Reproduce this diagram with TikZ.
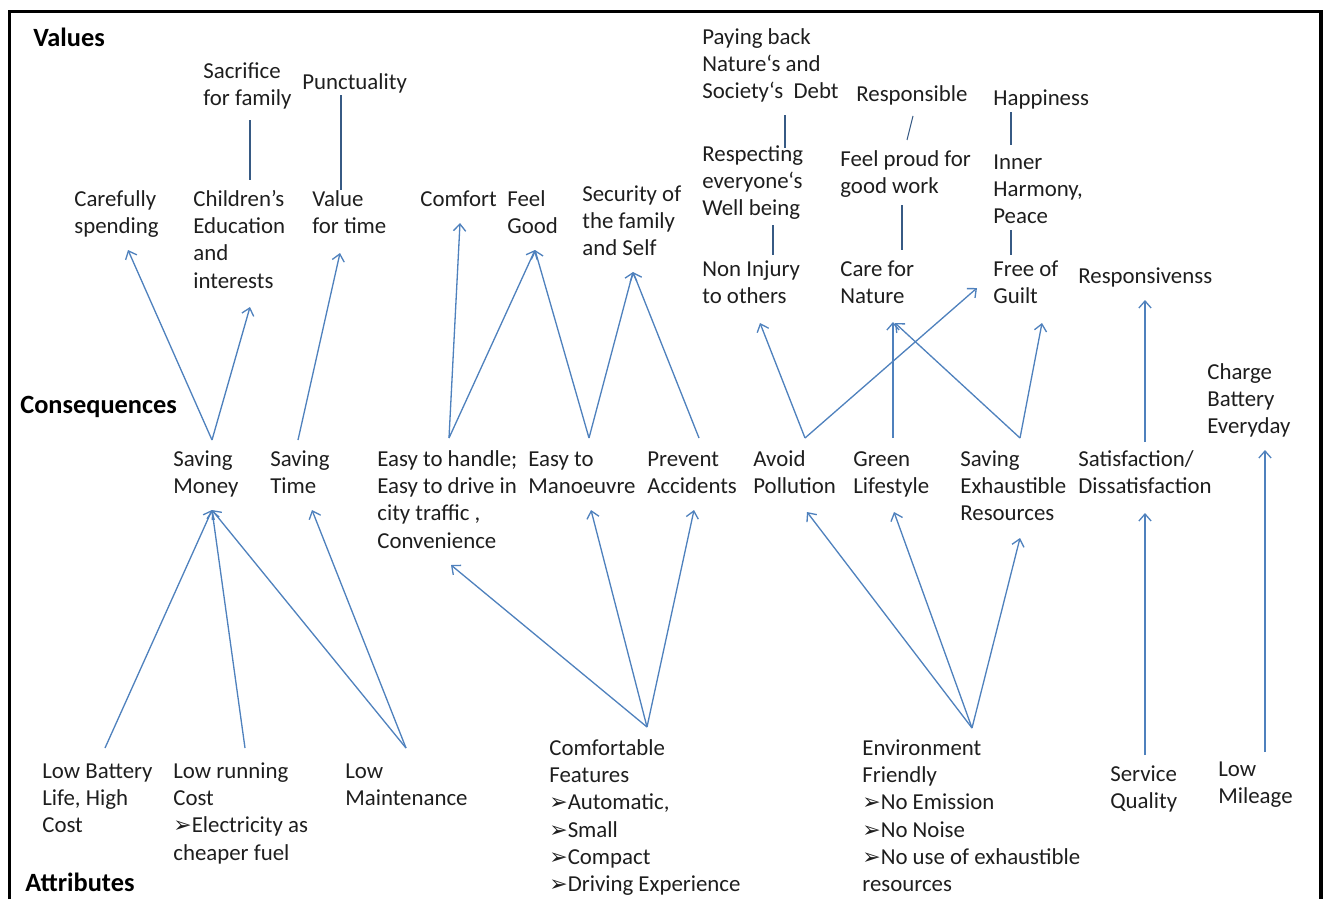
\documentclass[tikz,border=0pt]{standalone}
\usepackage{fontspec}
\setmainfont{Carlito}
\newfontfamily\dejavu{DejaVu Sans}
\usetikzlibrary{arrows.meta}
\definecolor{lineBlue}{RGB}{79,129,189}
\definecolor{textGray}{RGB}{30,30,30}
\newcommand{\Tip}{{\dejavu\fontsize{12.5}{10}\selectfont ➢}}

\begin{document}
\begin{tikzpicture}[x=0.02cm,y=-0.02cm,
  lbl/.style={anchor=north west,inner sep=0pt,align=left,text=textGray,font=\fontsize{13}{15.5}\selectfont},
  head/.style={anchor=north west,inner sep=0pt,align=left,text=black,font=\fontsize{15}{18}\selectfont\bfseries},
  arr/.style={draw=lineBlue,line width=0.75pt,-{Straight Barb[length=4pt,width=7pt]}},
  rung/.style={draw=lineBlue!70!black,line width=0.6pt}]
\useasboundingbox (0,0) rectangle (1324,899);
\draw[line width=0.08cm] (9.5,899) -- (9.5,11.5) -- (1320.5,11.5) -- (1320.5,899);

% tier headings
\node[head] (valHead) at (33,24) {\strut Values};
\node[head] (conHead) at (20,391) {\strut Consequences};
\node[head] (attHead) at (25,869) {\strut Attributes};

% values
\node[lbl] (sacrifice) at (203,59) {\strut Sacrifice\\for family};
\node[lbl] (punct) at (302,70) {\strut Punctuality};
\node[lbl] (careful) at (74,187) {\strut Carefully\\spending};
\node[lbl] (children) at (193,187) {\strut Children’s\\Education\\and\\interests};
\node[lbl] (valTime) at (312,187) {\strut Value\\for time};
\node[lbl] (comfort) at (420,187) {\strut Comfort};
\node[lbl] (feelGood) at (507,187) {\strut Feel\\Good};
\node[lbl] (security) at (582,182) {\strut Security of\\the family\\and Self};
\node[lbl] (payBack) at (702,25) {\strut Paying back\\Nature‘s and\\Society‘s\ \ Debt};
\node[lbl] (respect) at (702,142) {\strut Respecting\\everyone‘s\\Well being};
\node[lbl] (nonInjury) at (702,257) {\strut Non Injury\\to others};
\node[lbl] (responsible) at (856,82) {\strut Responsible};
\node[lbl] (proud) at (840,147) {\strut Feel proud for\\good work};
\node[lbl] (careNature) at (840,257) {\strut Care for\\Nature};
\node[lbl] (happy) at (993,86) {\strut Happiness};
\node[lbl] (harmony) at (993,150) {\strut Inner\\Harmony,\\Peace};
\node[lbl] (guilt) at (993,257) {\strut Free of\\Guilt};
\node[lbl] (respons) at (1078,264) {\strut Responsivenss};

% consequences
\node[lbl] (money) at (173,447) {\strut Saving\\Money};
\node[lbl] (time) at (270,447) {\strut Saving\\Time};
\node[lbl] (easy) at (377,447) {\strut Easy to handle;\\Easy to drive in\\city traffic ,\\Convenience};
\node[lbl] (manoeuvre) at (528,447) {\strut Easy to\\Manoeuvre};
\node[lbl] (prevent) at (647,447) {\strut Prevent\\Accidents};
\node[lbl] (pollution) at (753,447) {\strut Avoid\\Pollution};
\node[lbl] (green) at (853,447) {\strut Green\\Lifestyle};
\node[lbl] (exhaust) at (960,447) {\strut Saving\\Exhaustible\\Resources};
\node[lbl] (satisf) at (1078,447) {\strut Satisfaction/\\Dissatisfaction};
\node[lbl] (charge) at (1207,360) {\strut Charge\\Battery\\Everyday};

% attributes
\node[lbl] (battery) at (42,759) {\strut Low Battery\\Life, High\\Cost};
\node[lbl] (running) at (173,759) {\strut Low running\\Cost\\\Tip Electricity as\\cheaper fuel};
\node[lbl] (maint) at (345,759) {\strut Low\\Maintenance};
\node[lbl] (comfy) at (549,736) {\strut Comfortable\\Features\\\Tip Automatic,\\\Tip Small\\\Tip Compact\\\Tip Driving Experience};
\node[lbl] (envFriendly) at (862,736) {\strut Environment\\Friendly\\\Tip No Emission\\\Tip No Noise\\\Tip No use of exhaustible\\resources};
\node[lbl] (service) at (1110,762) {\strut Service\\Quality};
\node[lbl] (mileage) at (1218,757) {\strut Low\\Mileage};

% value ladders
\draw[rung] ([shift={(47,61)}]sacrifice.north west) -- ([shift={(57,-7)}]children.north west);
\draw[rung] ([shift={(39,25)}]punct.north west) -- ([shift={(29,3)}]valTime.north west);
\draw[rung] ([shift={(83,90)}]payBack.north west) -- ([shift={(83,6)}]respect.north west);
\draw[rung] ([shift={(71,83)}]respect.north west) -- ([shift={(71,-2)}]nonInjury.north west);
\draw[rung] ([shift={(57,34)}]responsible.north west) -- ([shift={(67,-7)}]proud.north west);
\draw[rung] ([shift={(62,58)}]proud.north west) -- ([shift={(62,-7)}]careNature.north west);
\draw[rung] ([shift={(18,26)}]happy.north west) -- ([shift={(18,-5)}]harmony.north west);
\draw[rung] ([shift={(18,80)}]harmony.north west) -- ([shift={(18,-2)}]guilt.north west);

% consequences -> values
\draw[arr] ([shift={(39,-7)}]money.north west) -- ([shift={(54,63)}]careful.north west);
\draw[arr] ([shift={(39,-7)}]money.north west) -- ([shift={(57,120)}]children.north west);
\draw[arr] ([shift={(28,-7)}]time.north west) -- ([shift={(28,66)}]valTime.north west);
\draw[arr] ([shift={(72,-9)}]easy.north west) -- ([shift={(40,36)}]comfort.north west);
\draw[arr] ([shift={(72,-9)}]easy.north west) -- ([shift={(28,63)}]feelGood.north west);
\draw[arr] ([shift={(61,-9)}]manoeuvre.north west) -- ([shift={(28,63)}]feelGood.north west);
\draw[arr] ([shift={(61,-9)}]manoeuvre.north west) -- ([shift={(51,90)}]security.north west);
\draw[arr] ([shift={(52,-9)}]prevent.north west) -- ([shift={(51,90)}]security.north west);
\draw[arr] ([shift={(52,-9)}]pollution.north west) -- ([shift={(58,66)}]nonInjury.north west);
\draw[arr] ([shift={(52,-9)}]pollution.north west) -- ([shift={(-16,31)}]guilt.north west);
\draw[arr] ([shift={(40,-9)}]green.north west) -- ([shift={(53,65)}]careNature.north west);
\draw[arr] ([shift={(60,-9)}]exhaust.north west) -- ([shift={(55,66)}]careNature.north west);
\draw[arr] ([shift={(60,-9)}]exhaust.north west) -- ([shift={(49,66)}]guilt.north west);
\draw[arr] ([shift={(67,-5)}]satisf.north west) -- ([shift={(67,36)}]respons.north west);

% attributes -> consequences
\draw[arr] ([shift={(63,-11)}]battery.north west) -- ([shift={(39,63)}]money.north west);
\draw[arr] ([shift={(72,-11)}]running.north west) -- ([shift={(39,63)}]money.north west);
\draw[arr] ([shift={(61,-11)}]maint.north west) -- ([shift={(39,63)}]money.north west);
\draw[arr] ([shift={(61,-11)}]maint.north west) -- ([shift={(42,63)}]time.north west);
\draw[arr] ([shift={(98,-9)}]comfy.north west) -- ([shift={(74,118)}]easy.north west);
\draw[arr] ([shift={(98,-9)}]comfy.north west) -- ([shift={(63,63)}]manoeuvre.north west);
\draw[arr] ([shift={(98,-9)}]comfy.north west) -- ([shift={(47,63)}]prevent.north west);
\draw[arr] ([shift={(110,-8)}]envFriendly.north west) -- ([shift={(54,65)}]pollution.north west);
\draw[arr] ([shift={(110,-8)}]envFriendly.north west) -- ([shift={(41,65)}]green.north west);
\draw[arr] ([shift={(110,-8)}]envFriendly.north west) -- ([shift={(60,91)}]exhaust.north west);
\draw[arr] ([shift={(35,-7)}]service.north west) -- ([shift={(67,66)}]satisf.north west);
\draw[arr] ([shift={(47,-5)}]mileage.north west) -- ([shift={(58,90)}]charge.north west);
\end{tikzpicture}
\end{document}
